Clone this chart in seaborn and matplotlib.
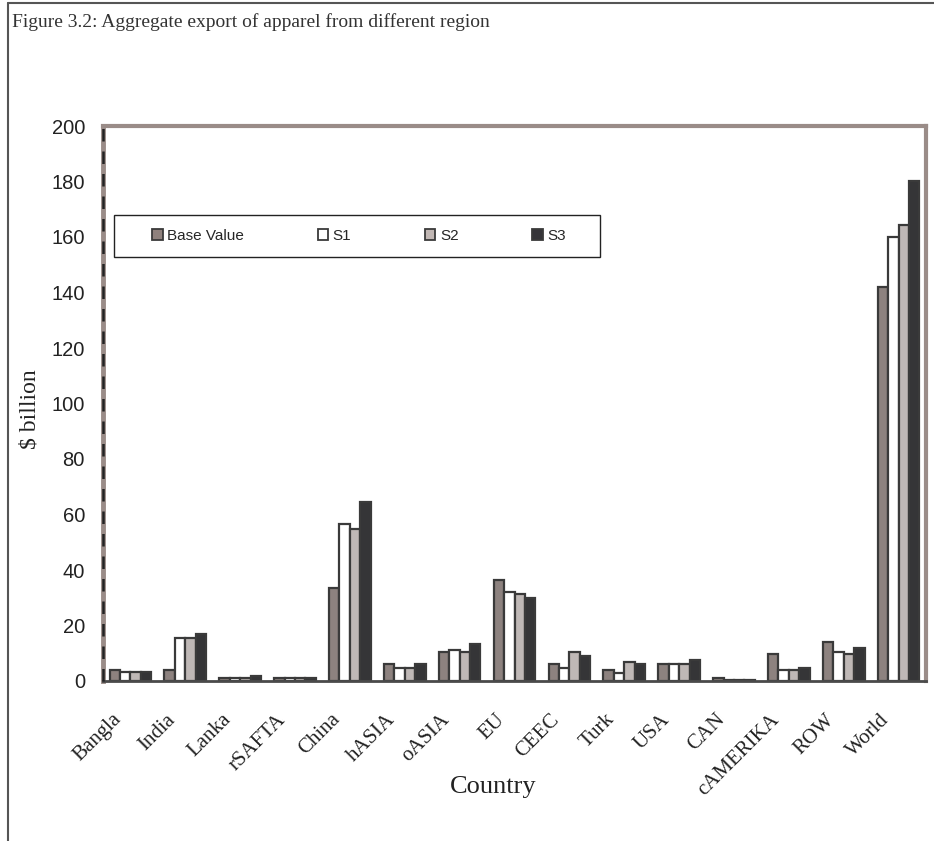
import numpy as np
import pandas as pd
import matplotlib
matplotlib.use("Agg")
import matplotlib.pyplot as plt
import matplotlib.patches as mpatches
import matplotlib.lines as mlines
import matplotlib.transforms as mtransforms
import seaborn as sns

# values ($ billion)
countries = ['Bangla', 'India', 'Lanka', 'rSAFTA', 'China', 'hASIA', 'oASIA', 'EU',
             'CEEC', 'Turk', 'USA', 'CAN', 'cAMERIKA', 'ROW', 'World']
base_value = [3.9, 4.0, 1.1, 1.1, 33.4, 6.1, 10.4, 36.3, 6.0, 4.0, 6.0, 1.2, 9.6, 14.2, 142.1]
s1 = [3.2, 15.5, 1.0, 1.1, 56.5, 4.6, 11.2, 32.0, 4.6, 3.0, 6.0, 0.4, 4.0, 10.4, 160.0]
s2 = [3.2, 15.5, 1.0, 1.1, 54.9, 4.6, 10.4, 31.2, 10.4, 6.8, 6.0, 0.4, 4.0, 9.6, 164.3]
s3 = [3.2, 17.0, 1.9, 1.0, 64.5, 6.1, 13.5, 29.9, 9.0, 6.1, 7.7, 0.4, 4.8, 12.0, 180.3]
series_names = ['Base Value', 'S1', 'S2', 'S3']
colors = ['#8f817d', '#ffffff', '#c1b7b4', '#353438']

df = pd.DataFrame({
    'Country': countries * 4,
    'Value': base_value + s1 + s2 + s3,
    'Series': np.repeat(series_names, len(countries)),
})

sns.set_style('white')
serif = ['Liberation Serif', 'DejaVu Serif']
sans = ['Liberation Sans', 'DejaVu Sans']

fig = plt.figure(figsize=(9.34, 8.41), dpi=100)
W, H = 934, 841
ax = fig.add_axes([103 / W, 1 - 681 / H, (926 - 103) / W, (681 - 126) / H])

sns.barplot(data=df, x='Country', y='Value', hue='Series', palette=colors,
            order=countries, hue_order=series_names, width=0.76,
            edgecolor='#3a3a3a', linewidth=1.6, legend=False, ax=ax)

ax.set_ylim(0, 200)
ax.set_xlim(-0.5, len(countries) - 0.5)
ax.set_yticks(np.arange(0, 201, 20))
ax.set_yticklabels([str(v) for v in range(0, 201, 20)], family=sans, fontsize=14.5, color='#222222')
ax.tick_params(axis='y', length=0, pad=13)

# category labels at centres, tick marks at the boundaries
ax.set_xticks(np.arange(len(countries)))
ax.set_xticklabels(countries, rotation=45, ha='right', rotation_mode='anchor',
                   family=serif, fontsize=15, color='#222222')
ax.tick_params(axis='x', which='major', length=0, pad=21)
shift = mtransforms.ScaledTranslation(-19 / 100, 0, fig.dpi_scale_trans)
for lbl in ax.get_xticklabels():
    lbl.set_transform(lbl.get_transform() + shift)
ax.set_xticks(np.arange(-0.5, len(countries)), minor=True)
ax.tick_params(axis='x', which='minor', length=6, width=1.5, color='#444444', direction='out')

ax.set_xlabel('Country', family=serif, fontsize=19, color='#222222')
ax.xaxis.set_label_coords((493 - 103) / (926 - 103), -(787 - 681) / (681 - 126))
ax.xaxis.label.set_va('center')
ax.set_ylabel('$ billion', family=serif, fontsize=17, color='#222222')
ax.yaxis.set_label_coords(-(103 - 40) / (926 - 103), 0.49)

# frame
for side in ['top', 'right']:
    ax.spines[side].set_color('#9a8c88')
    ax.spines[side].set_linewidth(3)
ax.spines['bottom'].set_color('#4a4a4a')
ax.spines['bottom'].set_linewidth(2)
ax.spines['left'].set_color('#9a8c88')
ax.spines['left'].set_linewidth(3.5)
ax.plot([0, 0], [0, 1], transform=ax.transAxes, color='#222222', lw=1.8,
        linestyle=(0, (5, 4)), clip_on=False, zorder=5)

# legend in its own rectangle
handles = [mpatches.Patch(facecolor=c, edgecolor='#3a3a3a', linewidth=1.3) for c in colors]
fig.patches.append(mpatches.Rectangle((114 / W, 1 - 257 / H), (600 - 114) / W, 42 / H,
                                      transform=fig.transFigure, facecolor='white',
                                      edgecolor='#222222', linewidth=1.0, zorder=3))
leg = fig.legend(handles, series_names, ncol=4, loc='center', bbox_to_anchor=(359 / W, 1 - 236 / H),
                 frameon=False, handlelength=0.7, handleheight=0.7, handletextpad=0.3,
                 columnspacing=4.8, prop={'family': sans, 'size': 11})
leg.set_zorder(4)

# figure caption and outer border
fig.text(12 / W, 1 - 22 / H, 'Figure 3.2: Aggregate export of apparel from different region',
         family=serif, fontsize=14, color='#333333', va='center', ha='left')
fig.lines.append(mlines.Line2D([8 / W, 8 / W], [0, 1 - 3 / H], transform=fig.transFigure,
                               color='#555555', lw=1.5))
fig.lines.append(mlines.Line2D([8 / W, 1], [1 - 3 / H, 1 - 3 / H], transform=fig.transFigure,
                               color='#555555', lw=1.5))

fig.savefig('out.png', dpi=100)
